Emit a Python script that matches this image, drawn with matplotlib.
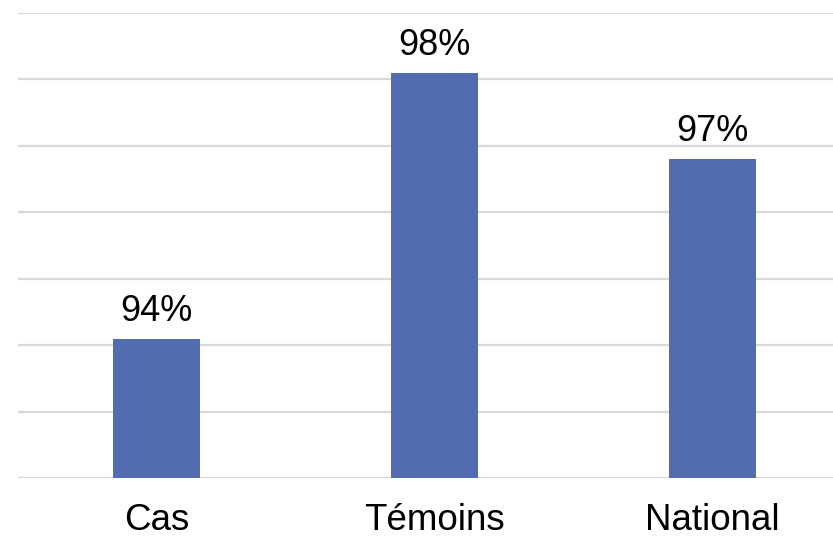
import matplotlib.pyplot as plt

categories = ["Cas", "Témoins", "National"]
values = [94.1, 98.1, 96.8]
labels = ["94%", "98%", "97%"]


def main():
    plt.rcParams["font.family"] = ["Liberation Sans", "DejaVu Sans"]

    fig = plt.figure(figsize=(8.33, 5.39), dpi=100)
    # axes runs off the right edge, as in the original
    ax = fig.add_axes([17.5 / 833, 61 / 539, (833 - 17.5) / 833, 465 / 539])

    x = range(len(categories))
    ax.bar(x, [v - 92 for v in values], bottom=92, width=0.313,
           color="#516db0", zorder=3)

    for xi, v, lab in zip(x, values, labels):
        ax.annotate(lab, (xi, v), xytext=(0, 7), textcoords="offset points",
                    ha="center", va="bottom", fontsize=26)

    ax.set_ylim(92, 99)
    ax.set_xlim(-0.5, 2.5 - 18.5 / 278)
    ax.set_yticks(range(92, 100))
    ax.yaxis.grid(True, color="#d9d9d9", linewidth=1.6, zorder=0)
    ax.set_yticklabels([])
    ax.tick_params(axis="y", length=0)
    ax.tick_params(axis="x", length=0, labelsize=26.5, pad=18)
    ax.set_xticks(list(x))
    ax.set_xticklabels(categories)
    for s in ax.spines.values():
        s.set_visible(False)

    fig.savefig("out.png", dpi=100)


if __name__ == "__main__":
    main()
